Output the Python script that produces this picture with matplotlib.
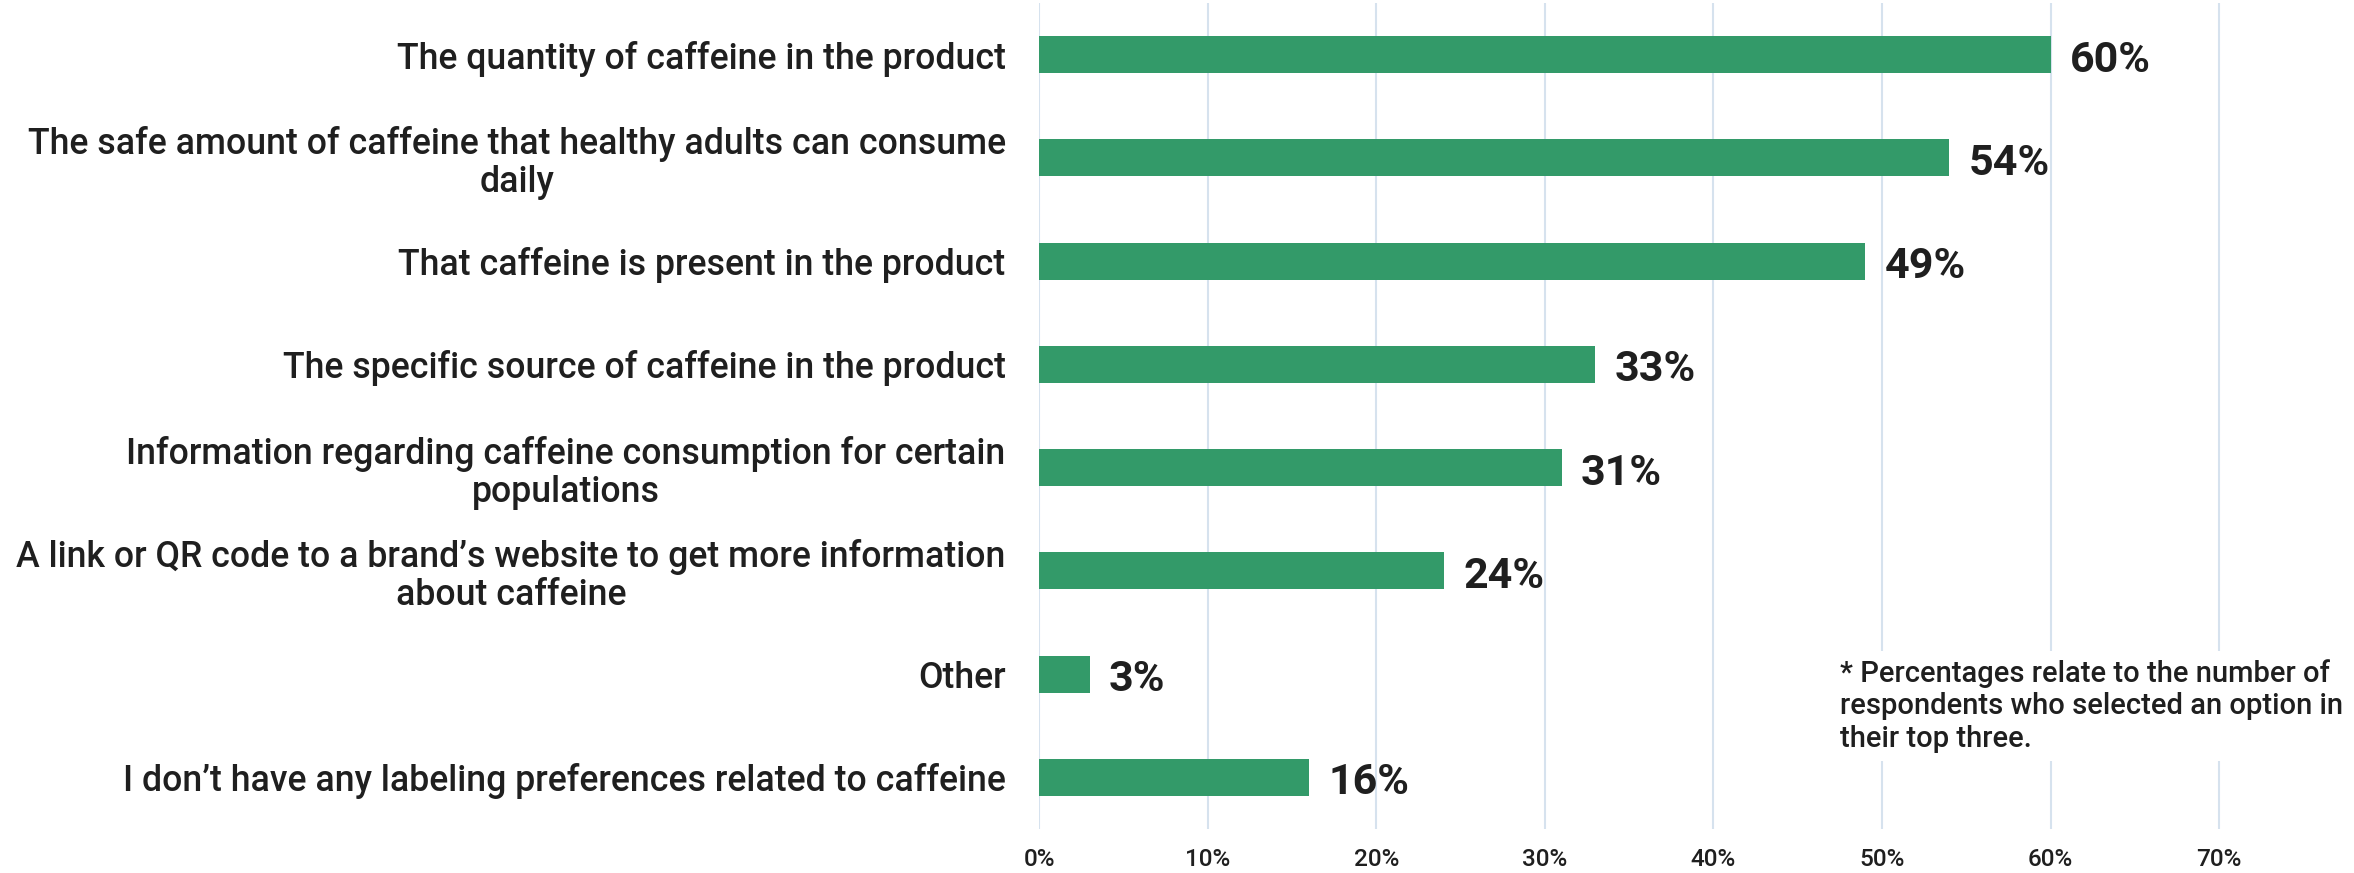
import matplotlib
matplotlib.use("Agg")
import matplotlib.pyplot as plt
from matplotlib.ticker import FuncFormatter

plt.rcParams['font.family'] = ['Roboto', 'DejaVu Sans']

categories = [
    "The quantity of caffeine in the product",
    "The safe amount of caffeine that healthy adults can consume\ndaily",
    "That caffeine is present in the product",
    "The specific source of caffeine in the product",
    "Information regarding caffeine consumption for certain\npopulations",
    "A link or QR code to a brand\u2019s website to get more information\nabout caffeine",
    "Other",
    "I don\u2019t have any labeling preferences related to caffeine",
]
values = [60, 54, 49, 33, 31, 24, 3, 16]
xticks = [0, 10, 20, 30, 40, 50, 60, 70]
note = ("* Percentages relate to the number of\n"
        "respondents who selected an option in\n"
        "their top three.")

BAR = "#339A69"
TEXT = "#1f1f1f"
GRID = "#D6E2EE"

fig = plt.figure(figsize=(23.54, 8.73), dpi=100)
ax = fig.add_axes([0.4414, 0.0504, 0.5586, 0.9462])

y = list(range(len(categories)))
ax.barh(y, values, height=0.36, color=BAR, zorder=3)

ax.set_xlim(0, 78.0)
ax.set_ylim(len(categories) - 0.5, -0.5)

ax.set_xticks(xticks)
ax.xaxis.set_major_formatter(FuncFormatter(lambda v, p: f"{v:.0f}%"))
ax.grid(axis='x', color=GRID, linewidth=1.5, zorder=0)
ax.tick_params(axis='x', length=0, pad=14, labelsize=17.5, labelcolor=TEXT)
for t in ax.get_xticklabels():
    t.set_fontweight('medium')

ax.set_yticks(y)
ax.set_yticklabels(categories, fontsize=25.7, color=TEXT, multialignment='center',
                   fontweight='medium', linespacing=1.1)
ax.tick_params(axis='y', length=0, pad=24)

for s in ax.spines.values():
    s.set_visible(False)

for yi, v in zip(y, values):
    ax.annotate(f"{v}%", xy=(v, yi), xytext=(14, -4), textcoords='offset points',
                ha='left', va='center', fontsize=31, fontweight='bold', color=TEXT)

fig.text(0.7816, 0.138, note, fontsize=21, color=TEXT, ha='left', va='bottom',
         linespacing=1.19, fontweight='medium',
         bbox=dict(boxstyle='square,pad=0.3', facecolor='white', edgecolor='none'))

fig.savefig("out.png", dpi=100)
